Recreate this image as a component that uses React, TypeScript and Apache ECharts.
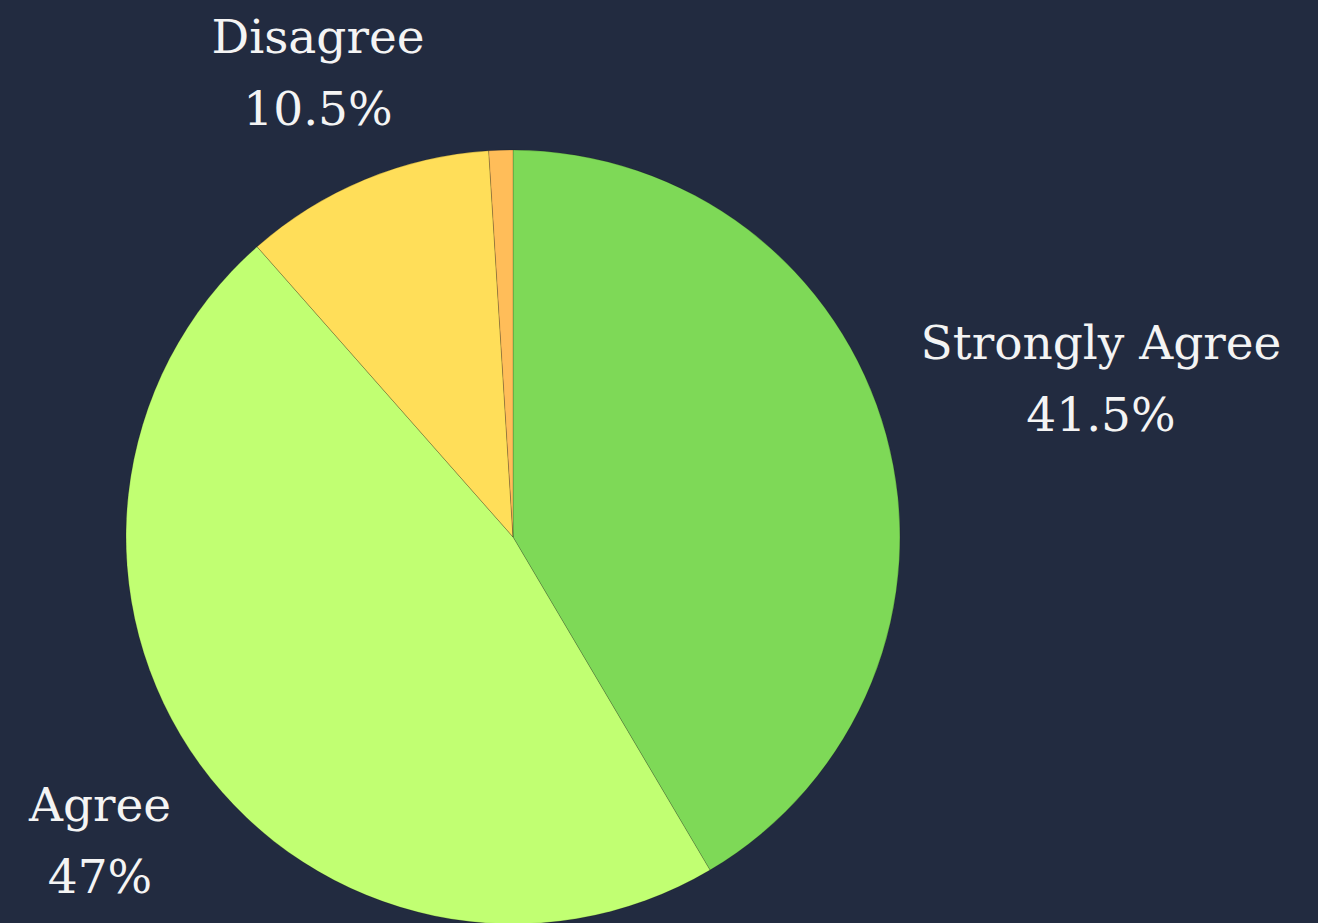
import React, { useEffect, useRef } from "react";
import * as echarts from "echarts";

const categories = ["Strongly Agree", "Agree", "Disagree", "Strongly Disagree"];
const values = [41.5, 47, 10.5, 1];
const percentLabels = ["41.5%", "47%", "10.5%", ""];
const colors = ["#7ED957", "#C1FF72", "#FFDE59", "#FFBD59"];
const showLabel = [true, true, true, false];
const labelSpots: [number, number][] = [
  [1101, 378],
  [100, 840],
  [318, 72],
  [513, 100],
];

export default function App() {
  const ref = useRef<HTMLDivElement>(null);
  useEffect(() => {
    document.body.style.margin = "0";
    document.body.style.background = "#222B40";
    const chart = echarts.init(ref.current!, null, { renderer: "svg" });
    chart.setOption({
      animation: false,
      backgroundColor: "#222B40",
      series: [
        {
          type: "pie",
          center: [513, 537],
          radius: 387,
          startAngle: 90,
          clockwise: true,
          avoidLabelOverlap: false,
          itemStyle: { borderColor: "rgba(0,0,0,0.18)", borderWidth: 1 },
          labelLine: { show: false },
          label: {
            show: true,
            position: "outside",
            color: "#F4F4F4",
            fontFamily: "DejaVu Serif",
            fontSize: 47,
            lineHeight: 72,
            align: "center",
            formatter: (p: any) => `${p.name}\n${percentLabels[p.dataIndex]}`,
          },
          labelLayout: (p: any) => ({
            x: labelSpots[p.dataIndex][0],
            y: labelSpots[p.dataIndex][1],
            align: "center",
            verticalAlign: "middle",
            hideOverlap: false,
          }),
          data: categories.map((c, i) => ({
            name: c,
            value: values[i],
            itemStyle: { color: colors[i] },
            label: { show: showLabel[i] },
          })),
        },
      ],
    });
    return () => chart.dispose();
  }, []);
  return <div ref={ref} style={{ width: 1318, height: 923 }} />;
}
